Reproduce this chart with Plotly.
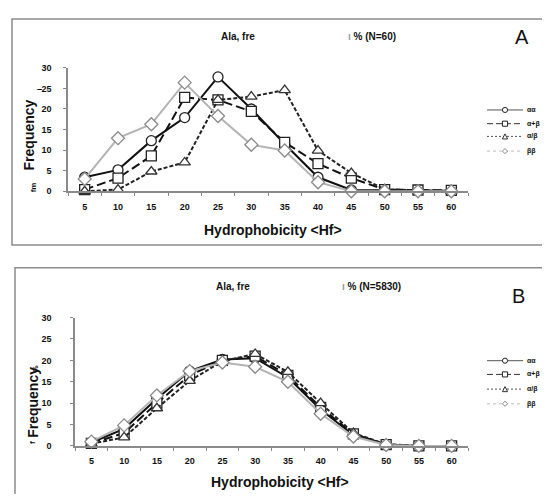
import plotly.graph_objects as go

# page body has an 8px default margin: map reference pixels accordingly
OFF = 8
W, H = 550 - OFF, 502 - 2 * OFF

hf_bins = ["5", "10", "15", "20", "25", "30", "35", "40", "45", "50", "55", "60"]
series_names = ["αα", "α+β", "α/β", "ββ"]

# Panel A (N=60)
a_aa = [3.4, 5.2, 12.3, 17.9, 27.8, 20.0, 11.5, 3.4, 0.3, 0.2, 0.1, 0.1]
a_apb = [0.4, 3.2, 8.6, 22.8, 22.2, 19.4, 11.9, 6.7, 3.2, 0.4, 0.3, 0.2]
a_aob = [0.0, 0.4, 4.8, 7.0, 22.2, 23.0, 24.6, 9.9, 4.4, 0.5, 0.2, 0.1]
a_bb = [3.0, 12.9, 16.3, 26.4, 18.3, 11.3, 9.9, 2.2, 0.0, 0.0, 0.0, 0.0]

# Panel B (N=5830)
b_aa = [0.8, 4.0, 11.0, 17.5, 20.2, 20.5, 16.0, 8.5, 2.5, 0.3, 0.0, 0.0]
b_apb = [0.6, 3.0, 10.0, 16.5, 20.0, 21.0, 16.5, 9.0, 2.8, 0.3, 0.0, 0.0]
b_aob = [0.5, 2.0, 8.8, 15.2, 19.8, 21.5, 17.3, 10.0, 3.0, 0.4, 0.0, 0.0]
b_bb = [1.0, 4.8, 11.8, 17.5, 19.5, 18.5, 15.0, 7.5, 2.2, 0.2, 0.0, 0.0]

y_ticks = [0, 5, 10, 15, 20, 25, 30]


def px(x):
    return (x - OFF) / W


def py(y):
    return 1 - (y - OFF) / H


styles = [
    dict(color="#111111", dash="solid", symbol="circle", mline="#222222", width=2,
         lcolor="#555555", ldash="solid"),
    dict(color="#111111", dash="9px,4px", symbol="square", mline="#222222", width=2,
         lcolor="#333333", ldash="6px,3px"),
    dict(color="#222222", dash="4px,2px", symbol="triangle-up", mline="#333333", width=2,
         lcolor="#555555", ldash="2px,2px"),
    dict(color="#b4b4b4", dash="solid", symbol="diamond", mline="#8a8a8a", width=2,
         lcolor="#bdbdbd", ldash="dot"),
]

fig = go.Figure()

panels = [
    ("x", "y", [a_aa, a_apb, a_aob, a_bb]),
    ("x2", "y2", [b_aa, b_apb, b_aob, b_bb]),
]

for xa, ya, data in panels:
    for name, vals, st in zip(series_names, data, styles):
        fig.add_trace(go.Scatter(
            x=hf_bins, y=vals, xaxis=xa, yaxis=ya, mode="lines+markers",
            line=dict(color=st["color"], dash=st["dash"], width=st["width"]),
            marker=dict(symbol=st["symbol"], size=10, color="white",
                        line=dict(color=st["mline"], width=1.3)),
            showlegend=False, name=name, cliponaxis=False,
        ))

tickfont = dict(family="Liberation Sans, Arial", size=9, color="#111111", weight="bold")
xax_common = dict(
    type="category", categoryorder="array", categoryarray=hf_bins,
    range=[-0.5, 11.5], tickson="boundaries", ticks="outside", ticklen=3,
    tickcolor="#888888", showline=True, linecolor="#8a8a8a", linewidth=1.5,
    showgrid=False, zeroline=False, tickfont=tickfont, ticklabelstandoff=6,
    fixedrange=True,
)
yax_common = dict(
    range=[0, 30], tickvals=y_ticks, ticks="outside", ticklen=3,
    tickcolor="#888888", showline=True, linecolor="#8a8a8a", linewidth=1.5,
    showgrid=False, zeroline=False, tickfont=tickfont, fixedrange=True,
)

shapes = [
    dict(type="rect", xref="paper", yref="paper", x0=px(12), x1=px(560),
         y0=py(245), y1=py(14), line=dict(color="#8c8c8c", width=1.5)),
    dict(type="rect", xref="paper", yref="paper", x0=px(15), x1=px(560),
         y0=py(520), y1=py(268), line=dict(color="#8c8c8c", width=1.5)),
]

fig.update_layout(
    width=W, height=H, margin=dict(l=0, r=0, t=0, b=0),
    paper_bgcolor="white", plot_bgcolor="white", showlegend=False,
    xaxis=dict(domain=[px(68), px(468)], anchor="y", **xax_common),
    yaxis=dict(domain=[py(190), py(64)], anchor="x", ticklabelstandoff=10, **yax_common),
    xaxis2=dict(domain=[px(75), px(468)], anchor="y2", **xax_common),
    yaxis2=dict(domain=[py(450), py(319)], anchor="x2", ticklabelstandoff=17, **yax_common),
)


def ann(x, y, text, size, angle=0, color="#111111", weight="bold", xanchor="center"):
    fig.add_annotation(
        x=px(x), y=py(y), xref="paper", yref="paper", text=text, showarrow=False,
        xanchor=xanchor, yanchor="middle", textangle=angle,
        font=dict(family="Liberation Sans, Arial", size=size, color=color, weight=weight),
    )


# Manual compact legends (key samples, not data marks)
def legend_block(rows_y):
    lx0, lx1, mx, tx = 487, 523, 505, 525
    r = 2.6
    for name, st, yy in zip(series_names, styles, rows_y):
        shapes.append(dict(type="line", xref="paper", yref="paper",
                           x0=px(lx0), x1=px(lx1), y0=py(yy), y1=py(yy),
                           line=dict(color=st["lcolor"], width=1, dash=st["ldash"])))
        mk = dict(xref="paper", yref="paper", fillcolor="white",
                  line=dict(color=st["mline"], width=1))
        if st["symbol"] == "circle":
            shapes.append(dict(type="circle", x0=px(mx - r), x1=px(mx + r),
                               y0=py(yy + r), y1=py(yy - r), **mk))
        elif st["symbol"] == "square":
            shapes.append(dict(type="rect", x0=px(mx - r), x1=px(mx + r),
                               y0=py(yy + r), y1=py(yy - r), **mk))
        elif st["symbol"] == "triangle-up":
            path = (f"M {px(mx - r)},{py(yy + r)} L {px(mx + r)},{py(yy + r)} "
                    f"L {px(mx)},{py(yy - r)} Z")
            shapes.append(dict(type="path", path=path, **mk))
        else:
            path = (f"M {px(mx)},{py(yy - r)} L {px(mx + r)},{py(yy)} "
                    f"L {px(mx)},{py(yy + r)} L {px(mx - r)},{py(yy)} Z")
            shapes.append(dict(type="path", path=path, **mk))
        ann(tx, yy, name, 7, xanchor="left")


legend_block([107, 121, 134, 149])
legend_block([363, 377, 392, 407])
fig.update_layout(shapes=shapes)

# Panel A texts
ann(238, 32, "Ala, fre", 10)
ann(372, 32, "<span style='color:#999'>ı</span> % (N=60)", 10)
ann(522, 32, "A", 20, weight="normal")
ann(273, 230, "Hydrophobicity &lt;Hf&gt;", 14)
ann(29, 133, "Frequency", 14, angle=-90)
ann(33, 186, "fm", 8, angle=-90)
ann(39, 86, "i", 7, angle=-90)

# Panel B texts
ann(233, 287, "Ala, fre", 10)
ann(371, 287, "<span style='color:#999'>ı</span> % (N=5830)", 10)
ann(518, 297, "B", 20, weight="normal")
ann(280, 487, "Hydrophobicity &lt;Hf&gt;", 14)
ann(33, 406, "Frequency", 14, angle=-90)
ann(36, 372, "%", 8, angle=-90)
ann(33, 447, "f", 8, angle=-90)

fig.write_html("out.html")
